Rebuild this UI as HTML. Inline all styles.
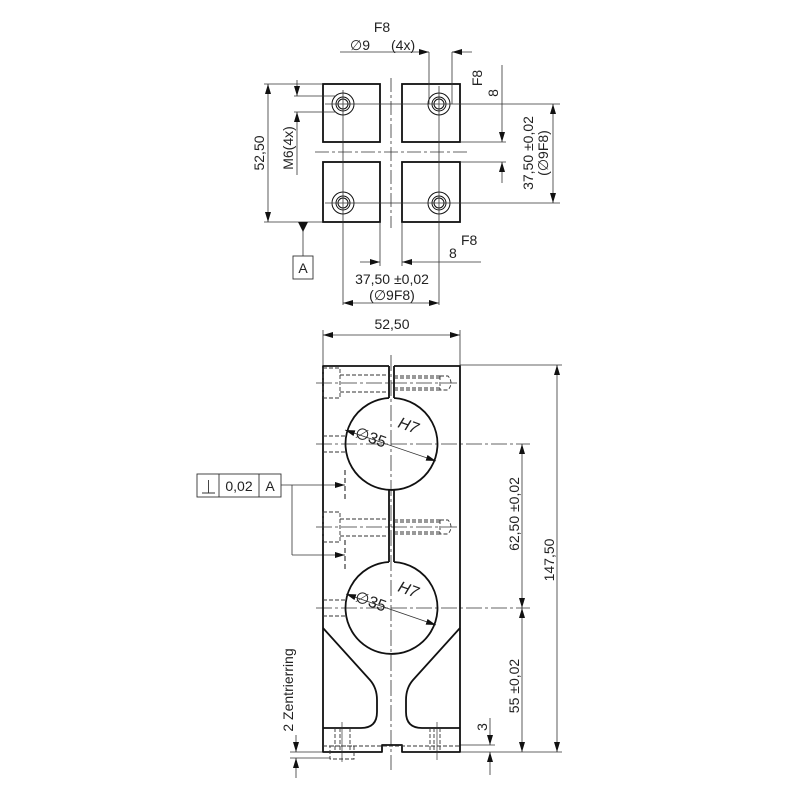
<!DOCTYPE html>
<html><head><meta charset="utf-8"><style>
html,body{margin:0;padding:0;background:#fff;}
svg{display:block;}
text{font-family:"Liberation Sans",sans-serif;font-size:14px;fill:#222;}
</style></head><body>
<svg width="800" height="800" viewBox="0 0 800 800" xmlns="http://www.w3.org/2000/svg">
<defs>
<marker id="a" viewBox="0 0 10 6" refX="10" refY="3" markerWidth="10" markerHeight="6" orient="auto-start-reverse" markerUnits="userSpaceOnUse"><path d="M0,0 L10,3 L0,6 z" fill="#111"/></marker>
</defs>
<g fill="none" stroke="#111" stroke-width="1.8">
<rect x="323" y="84" width="57" height="58"/>
<rect x="402" y="84" width="58" height="58"/>
<rect x="323" y="162" width="57" height="60"/>
<rect x="402" y="162" width="58" height="60"/>
</g>
<g fill="none" stroke="#111" stroke-width="1">
<circle cx="343" cy="104" r="11"/><circle cx="343" cy="104" r="7"/><circle cx="343" cy="104" r="5"/>
<circle cx="439" cy="104" r="11"/><circle cx="439" cy="104" r="7"/><circle cx="439" cy="104" r="5"/>
<circle cx="343" cy="203" r="11"/><circle cx="343" cy="203" r="7"/><circle cx="343" cy="203" r="5"/>
<circle cx="439" cy="203" r="11"/><circle cx="439" cy="203" r="7"/><circle cx="439" cy="203" r="5"/>
</g>
<g stroke="#333" stroke-width="0.8" fill="none">
<line x1="391" y1="78" x2="391" y2="228" stroke-dasharray="14,3,3,3"/>
<line x1="315" y1="152" x2="467" y2="152" stroke-dasharray="14,3,3,3"/>
<line x1="343" y1="90" x2="343" y2="305"/>
<line x1="439" y1="86" x2="439" y2="305"/>
<line x1="325" y1="104" x2="560" y2="104"/>
<line x1="325" y1="203" x2="560" y2="203"/>
<line x1="264" y1="84" x2="323" y2="84"/>
<line x1="264" y1="222" x2="323" y2="222"/>
<line x1="268" y1="84" x2="268" y2="222" marker-start="url(#a)" marker-end="url(#a)"/>
<line x1="294" y1="96" x2="336" y2="96"/>
<line x1="294" y1="112" x2="336" y2="112"/>
<line x1="297" y1="80" x2="297" y2="96" marker-end="url(#a)"/>
<line x1="297" y1="175" x2="297" y2="112" marker-end="url(#a)"/>
<line x1="429" y1="52" x2="429" y2="104"/>
<line x1="452" y1="52" x2="452" y2="104"/>
<line x1="340" y1="52" x2="429" y2="52" marker-end="url(#a)"/>
<line x1="472" y1="52" x2="452" y2="52" marker-end="url(#a)"/>
<line x1="460" y1="142" x2="506" y2="142"/>
<line x1="460" y1="162" x2="506" y2="162"/>
<line x1="502" y1="65" x2="502" y2="142" marker-end="url(#a)"/>
<line x1="502" y1="183" x2="502" y2="162" marker-end="url(#a)"/>
<line x1="553" y1="104" x2="553" y2="203" marker-start="url(#a)" marker-end="url(#a)"/>
<line x1="380" y1="222" x2="380" y2="266"/>
<line x1="402" y1="222" x2="402" y2="266"/>
<line x1="360" y1="262" x2="380" y2="262" marker-end="url(#a)"/>
<line x1="481" y1="262" x2="402" y2="262" marker-end="url(#a)"/>
<line x1="343" y1="303" x2="439" y2="303" marker-start="url(#a)" marker-end="url(#a)"/>
<line x1="303" y1="222" x2="303" y2="256"/>
</g>
<path d="M298,222 L308,222 L303,232 z" fill="#111"/>
<rect x="293" y="256" width="20" height="23" fill="none" stroke="#333" stroke-width="0.9"/>
<text x="303" y="273" text-anchor="middle">A</text>
<text x="382" y="32" text-anchor="middle">F8</text>
<text x="350" y="50">∅9</text>
<text x="391" y="50">(4x)</text>
<text x="461" y="245">F8</text>
<text x="449" y="258">8</text>
<text x="392" y="284" text-anchor="middle">37,50 ±0,02</text>
<text x="392" y="300" text-anchor="middle">(∅9F8)</text>
<text transform="translate(264,153) rotate(-90)" text-anchor="middle">52,50</text>
<text transform="translate(293,148) rotate(-90)" text-anchor="middle">M6(4x)</text>
<text transform="translate(482,78) rotate(-90)" text-anchor="middle">F8</text>
<text transform="translate(498,93) rotate(-90)" text-anchor="middle">8</text>
<text transform="translate(533,153) rotate(-90)" text-anchor="middle">37,50 ±0,02</text>
<text transform="translate(548,153) rotate(-90)" text-anchor="middle">(∅9F8)</text>

<g stroke="#333" stroke-width="0.8" fill="none">
<line x1="323" y1="330" x2="323" y2="366"/>
<line x1="460" y1="330" x2="460" y2="366"/>
<line x1="323" y1="335" x2="460" y2="335" marker-start="url(#a)" marker-end="url(#a)"/>
<line x1="391" y1="355" x2="391" y2="770" stroke-dasharray="16,3,3,3"/>
<line x1="316" y1="383" x2="460" y2="383" stroke-dasharray="16,3,3,3"/>
<line x1="316" y1="444" x2="530" y2="444" stroke-dasharray="16,3,3,3"/>
<line x1="316" y1="527" x2="460" y2="527" stroke-dasharray="16,3,3,3"/>
<line x1="316" y1="608" x2="530" y2="608" stroke-dasharray="16,3,3,3"/>
<line x1="460" y1="365" x2="562" y2="365"/>
<line x1="460" y1="752" x2="562" y2="752"/>
<line x1="557" y1="365" x2="557" y2="752" marker-start="url(#a)" marker-end="url(#a)"/>
<line x1="522" y1="444" x2="522" y2="608" marker-start="url(#a)" marker-end="url(#a)"/>
<line x1="522" y1="608" x2="522" y2="752" marker-start="url(#a)" marker-end="url(#a)"/>
<line x1="460" y1="745" x2="495" y2="745"/>
<line x1="490" y1="718" x2="490" y2="745" marker-end="url(#a)"/>
<line x1="490" y1="775" x2="490" y2="752" marker-end="url(#a)"/>
<line x1="290" y1="752" x2="330" y2="752"/>
<line x1="290" y1="758" x2="330" y2="758"/>
<line x1="296" y1="735" x2="296" y2="752" marker-end="url(#a)"/>
<line x1="296" y1="778" x2="296" y2="758" marker-end="url(#a)"/>
<line x1="345" y1="430" x2="436" y2="461" marker-start="url(#a)" marker-end="url(#a)"/>
<line x1="346" y1="594" x2="436" y2="625" marker-start="url(#a)" marker-end="url(#a)"/>
<line x1="281" y1="485" x2="345" y2="485" marker-end="url(#a)"/>
<line x1="292" y1="485" x2="292" y2="555"/>
<line x1="292" y1="555" x2="345" y2="555" marker-end="url(#a)"/>
</g>
<g stroke="#111" stroke-width="1" stroke-dasharray="5,3" fill="none">
<line x1="345" y1="470" x2="345" y2="500"/>
<line x1="345" y1="540" x2="345" y2="572"/>
</g>
<g fill="none" stroke="#111" stroke-width="1.8" stroke-linejoin="round">
<path d="M389,366 L323,366 L323,752 L382,752 L382,745 L402,745 L402,752 L460,752 L460,366 L394,366"/>
<line x1="389" y1="366" x2="389" y2="398"/>
<line x1="394" y1="366" x2="394" y2="398"/>
<path d="M389,398 A46,46 0 1 0 394,398"/>
<line x1="389" y1="490" x2="389" y2="562"/>
<line x1="394" y1="490" x2="394" y2="562"/>
<path d="M389,562 A46,46 0 1 0 394,562"/>
<path d="M323,628 L370,680 Q377,688 377,700 L377,712 Q377,728 361,728 L323,728"/>
<path d="M460,628 L413,680 Q406,688 406,700 L406,712 Q406,728 422,728 L460,728"/>
</g>
<g fill="none" stroke="#333" stroke-width="0.9" stroke-dasharray="4,2">
<rect x="323" y="368" width="17" height="30"/>
<path d="M340,375 L389,375 M340,392 L389,392"/>
<path d="M394,376 L440,376 M394,390 L440,390 M394,378 L440,378 M394,388 L440,388 M440,376 L440,390 M440,376 L448,376 Q454,383 448,390 L440,390"/>
<rect x="323" y="512" width="17" height="30"/>
<path d="M340,519 L389,519 M340,536 L389,536"/>
<path d="M394,520 L440,520 M394,534 L440,534 M394,522 L440,522 M394,532 L440,532 M440,520 L440,534 M440,520 L448,520 Q454,527 448,534 L440,534"/>
<path d="M323,436 L346,436 M323,452 L346,452 M323,600 L347,600 M323,616 L347,616"/>
<path d="M323,746 L460,746"/>
<path d="M335,728 L335,752 M340,728 L340,752 M350,728 L350,752 M434,728 L434,752 M440,728 L440,752 M430,728 L430,752"/>
<rect x="330" y="746" width="24" height="13"/>
</g>
<g stroke="#333" stroke-width="0.7">
<line x1="342" y1="722" x2="342" y2="762"/>
<line x1="437" y1="722" x2="437" y2="760"/>
</g>
<g fill="none" stroke="#333" stroke-width="0.9">
<rect x="197" y="474" width="84" height="23"/>
<line x1="219" y1="474" x2="219" y2="497"/>
<line x1="259" y1="474" x2="259" y2="497"/>
<path d="M202,493 L215,493 M208.5,480 L208.5,493"/>
</g>
<text x="239" y="491" text-anchor="middle">0,02</text>
<text x="270" y="491" text-anchor="middle">A</text>
<text x="392" y="329" text-anchor="middle">52,50</text>
<text transform="translate(354,437) rotate(20)" style="font-size:16px">∅35</text>
<text transform="translate(397,427) rotate(20)" style="font-size:16px;font-style:italic">H7</text>
<text transform="translate(354,601) rotate(20)" style="font-size:16px">∅35</text>
<text transform="translate(397,591) rotate(20)" style="font-size:16px;font-style:italic">H7</text>
<text transform="translate(519,514) rotate(-90)" text-anchor="middle">62,50 ±0,02</text>
<text transform="translate(554,560) rotate(-90)" text-anchor="middle">147,50</text>
<text transform="translate(519,686) rotate(-90)" text-anchor="middle">55 ±0,02</text>
<text transform="translate(487,727) rotate(-90)" text-anchor="middle">3</text>
<text transform="translate(293,690) rotate(-90)" text-anchor="middle">2 Zentrierring</text>
</svg>
</body></html>
